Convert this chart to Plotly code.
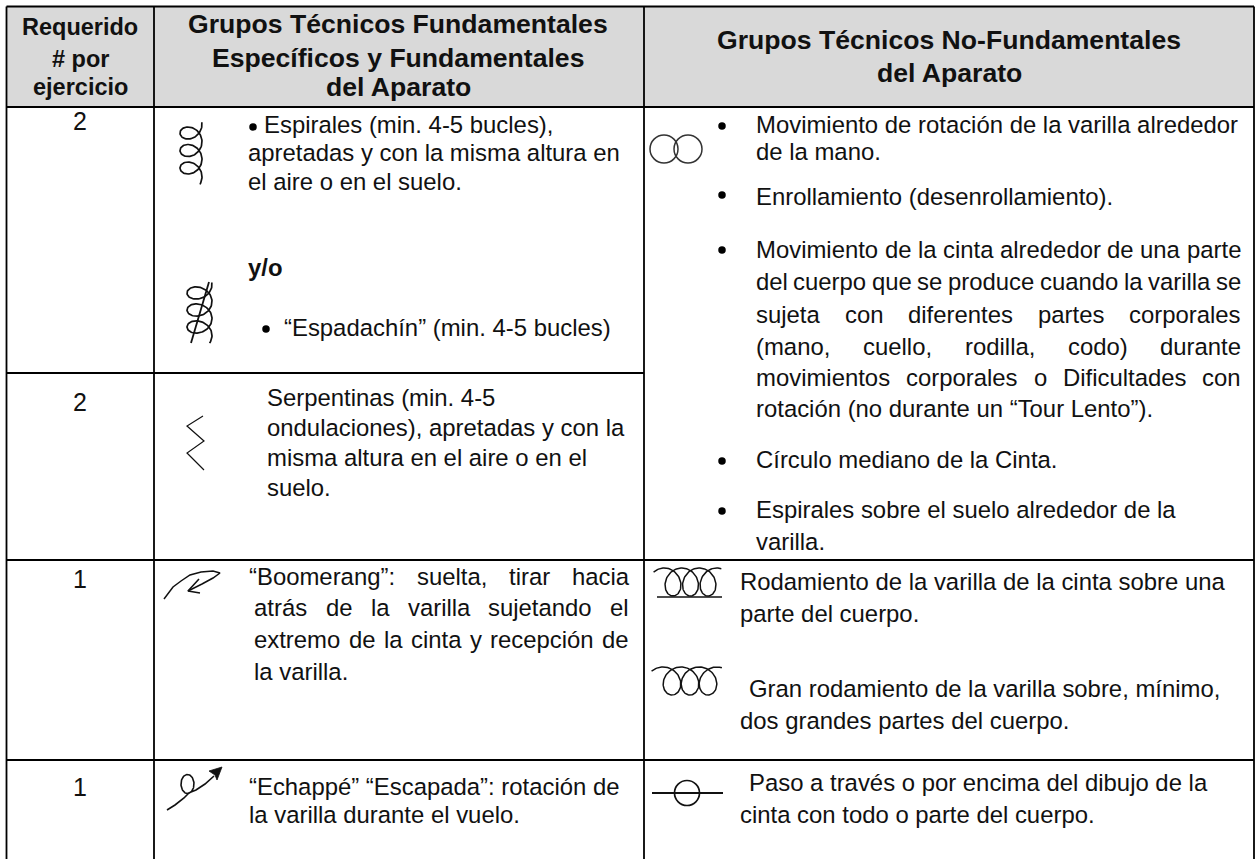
import numpy as np
import plotly.graph_objects as go

FONT = "Liberation Sans"
INK = "#111111"
BODY = 23.9
HEAD = 23.5
HEAD_BIG = 26.6

# ---- table text ----
req_labels = ["2", "2", "1", "1"]
req_y = [120.5, 402, 579, 787]

head_left = ["Requerido", "# por", "ejercicio"]
head_left_y = [27, 59, 87]
head_mid = ["Grupos Técnicos Fundamentales", "Específicos y Fundamentales", "del Aparato"]
head_mid_y = [24, 58, 87]
head_right = ["Grupos Técnicos No-Fundamentales", "del Aparato"]
head_right_y = [40, 73]

mid_lines = ["Espirales (min. 4-5 bucles),", "apretadas y con la misma altura en", "el aire o en el suelo.",
             "“Espadachín” (min. 4-5 bucles)",
             "Serpentinas (min. 4-5", "ondulaciones), apretadas y con la", "misma altura en el aire o en el", "suelo.",
             "“Boomerang”: suelta, tirar hacia", "atrás de la varilla sujetando el", "extremo de la cinta y recepción de", "la varilla.",
             "“Echappé” “Escapada”: rotación de", "la varilla durante el vuelo."]
mid_x = [263, 247, 247, 283, 266, 266, 266, 266, 248, 253, 253, 253, 248, 248]
mid_y = [124, 152, 181, 327, 397, 427, 457, 487, 576, 607, 639, 671, 786, 814]
mid_end = [0, 0, 0, 0, 0, 0, 0, 0, 628, 628, 628, 0, 0, 0]

right_lines = ["Movimiento de rotación de la varilla alrededor", "de la mano.",
               "Enrollamiento (desenrollamiento).",
               "Movimiento de la cinta alrededor de una parte", "del cuerpo que se produce cuando la varilla se",
               "sujeta con diferentes partes corporales", "(mano, cuello, rodilla, codo) durante",
               "movimientos corporales o Dificultades con", "rotación (no durante un “Tour Lento”).",
               "Círculo mediano de la Cinta.",
               "Espirales sobre el suelo alrededor de la", "varilla.",
               "Rodamiento de la varilla de la cinta sobre una", "parte del cuerpo.",
               "Gran rodamiento de la varilla sobre, mínimo,", "dos grandes partes del cuerpo.",
               "Paso a través o por encima del dibujo de la", "cinta con todo o parte del cuerpo."]
right_x = [755, 755, 755, 755, 755, 755, 755, 755, 755, 755, 755, 755, 739, 739, 748, 739, 748, 739]
right_y = [124, 151, 196, 249, 281, 314, 346, 377, 408, 459, 509, 541, 581, 613, 688, 720, 782, 814]
right_end = [0, 0, 0, 1240, 1240, 1240, 1240, 1240, 0, 0, 0, 0, 0, 0, 0, 0, 0, 0]

bullet_x = [253, 266, 722, 722, 722, 722, 722]
bullet_y = [127, 329, 126, 195, 250, 461, 511]

# ---- table frame ----
frame_left, frame_c1, frame_c2, frame_right = 6.5, 154, 644, 1254
frame_top, frame_head, frame_r1, frame_r2, frame_r3, frame_bottom = 6.5, 107, 373, 560, 760, 859

W = {" ": .278, "a": .556, "b": .556, "c": .5, "d": .556, "e": .556, "f": .278, "g": .556, "h": .556, "i": .222,
     "j": .222, "k": .5, "l": .222, "m": .833, "n": .556, "o": .556, "p": .556, "q": .556, "r": .333, "s": .5,
     "t": .278, "u": .556, "v": .5, "w": .722, "x": .5, "y": .5, "z": .5, "á": .556, "é": .556, "í": .278,
     "ó": .556, "(": .333, ")": .333, ",": .278, ".": .278, ":": .278, "“": .333, "”": .333, "-": .333,
     "B": .667, "D": .722, "M": .833, "E": .667}


def tw(s, size):
    return sum(W.get(c, .556) for c in s) * size


fig = go.Figure()
ann = []


def label(x, y, text, size=BODY, bold=False, anchor="left"):
    ann.append(dict(x=x, y=y, text=f"<b>{text}</b>" if bold else text, xref="x", yref="y", showarrow=False,
                    xanchor=anchor, yanchor="middle", borderpad=0,
                    font=dict(family=FONT, size=size, color=INK)))


def place(text, x, y, end):
    if not end:
        label(x, y, text)
        return
    words = text.split(" ")
    gap = (end - x - sum(tw(w, BODY) for w in words)) / (len(words) - 1)
    cur = x
    for w in words:
        label(cur, y, w)
        cur += tw(w, BODY) + gap


def stroke(xs, ys, width=1.7, color="#111111", fill=None):
    fig.add_trace(go.Scatter(x=xs, y=ys, mode="lines", line=dict(color=color, width=width), fill=fill,
                             fillcolor=color if fill else None, hoverinfo="skip", showlegend=False))


# header band
shapes = [dict(type="rect", xref="x", yref="y", x0=frame_left, x1=frame_right, y0=frame_top, y1=frame_head,
               fillcolor="#d9d9d9", line=dict(width=0), layer="below")]
seg = [(frame_left, frame_top, frame_right, frame_top), (frame_left, frame_head, frame_right, frame_head),
       (frame_left, frame_r1, frame_c2, frame_r1), (frame_left, frame_r2, frame_right, frame_r2),
       (frame_left, frame_r3, frame_right, frame_r3), (frame_left, frame_top, frame_left, frame_bottom),
       (frame_c1, frame_top, frame_c1, frame_bottom), (frame_c2, frame_top, frame_c2, frame_bottom),
       (frame_right, frame_top, frame_right, frame_bottom)]
for a, b, c, d in seg:
    shapes.append(dict(type="line", xref="x", yref="y", x0=a, y0=b, x1=c, y1=d, line=dict(color="black", width=1.8)))

for t, y in zip(req_labels, req_y):
    label(80, y, t, size=25, anchor="center")
for t, y in zip(head_left, head_left_y):
    label(80, y, t, size=HEAD, bold=True, anchor="center")
for t, y in zip(head_mid, head_mid_y):
    label(398, y, t, size=HEAD_BIG, bold=True, anchor="center")
for t, y in zip(head_right, head_right_y):
    label(949, y, t, size=HEAD_BIG, bold=True, anchor="center")
label(247, 267, "y/o", bold=True)
for t, x, y, e in zip(mid_lines, mid_x, mid_y, mid_end):
    place(t, x, y, e)
for t, x, y, e in zip(right_lines, right_x, right_y, right_end):
    place(t, x, y, e)

fig.add_trace(go.Scatter(x=bullet_x, y=bullet_y, mode="markers", marker=dict(color="black", size=7.5),
                         hoverinfo="skip", showlegend=False))


# ---- apparatus symbols ----
def vcoil(cx, y0, pitch, a, b, t0, t1):
    t = np.linspace(t0, t1, 260)
    return cx - a * np.cos(t), y0 + pitch * t / (2 * np.pi) - b * np.sin(t)


def hcoil(x0, cy, pitch, a, b, t0, t1):
    t = np.linspace(t0, t1, 260)
    return x0 + pitch * t / (2 * np.pi) - b * np.sin(t), cy + a * np.cos(t)


stroke(*vcoil(191, 133, 17.5, 11, 10, -1.05 * np.pi, 5.2 * np.pi))
stroke(*vcoil(199.5, 293, 17, 12.5, 10, -1.05 * np.pi, 5.2 * np.pi))
stroke([191, 209], [343, 282], width=1.8)
stroke([203, 187, 204, 187, 204], [416, 426, 441, 453, 470], width=1.2)

stroke([164, 173, 181, 190, 201, 213, 220, 213, 202, 188], [599, 587, 581, 575, 572, 571, 573, 578, 584, 591], width=1.5)
stroke([199, 188, 200], [579, 591, 593], width=1.6)

t = np.linspace(0, 1, 90)
lx = 187.5 + 6.5 * np.cos(np.pi / 2 - 2 * np.pi * t)
ly = 784 + 9.5 * np.sin(np.pi / 2 - 2 * np.pi * t)
stroke([167, 175, 184] + list(lx) + [196, 205, 214], [810, 805, 798] + list(ly) + [790, 784, 776], width=1.6)
stroke([222, 209, 215, 217, 222], [767, 771, 775, 780, 767], width=.8, fill="toself")

stroke(*hcoil(673, 582, 17.5, 14, 12, -1.25 * np.pi, 5.1 * np.pi), width=1.5)
stroke([657, 722], [597, 597], width=1.4)
stroke(*hcoil(672, 681, 18, 14, 13, -1.25 * np.pi, 5.1 * np.pi), width=1.5)
stroke([652, 723], [793, 793], width=1.8)

for cx, cy, r, w, col in [(664, 149, 14, 1.5, "#333333"), (688, 149, 14, 1.5, "#333333"), (687, 793, 12.5, 1.7, "#111111")]:
    shapes.append(dict(type="circle", xref="x", yref="y", x0=cx - r, x1=cx + r, y0=cy - r, y1=cy + r,
                       line=dict(color=col, width=w)))

fig.update_layout(width=1260, height=859, margin=dict(l=0, r=0, t=0, b=0), paper_bgcolor="white",
                  plot_bgcolor="white", shapes=shapes, annotations=ann, showlegend=False,
                  xaxis=dict(range=[0, 1260], visible=False, fixedrange=True),
                  yaxis=dict(range=[859, 0], visible=False, fixedrange=True))
fig.write_html("out.html", config={"displayModeBar": False},
               post_script="document.body.style.margin='0';document.documentElement.style.overflow='hidden';")
